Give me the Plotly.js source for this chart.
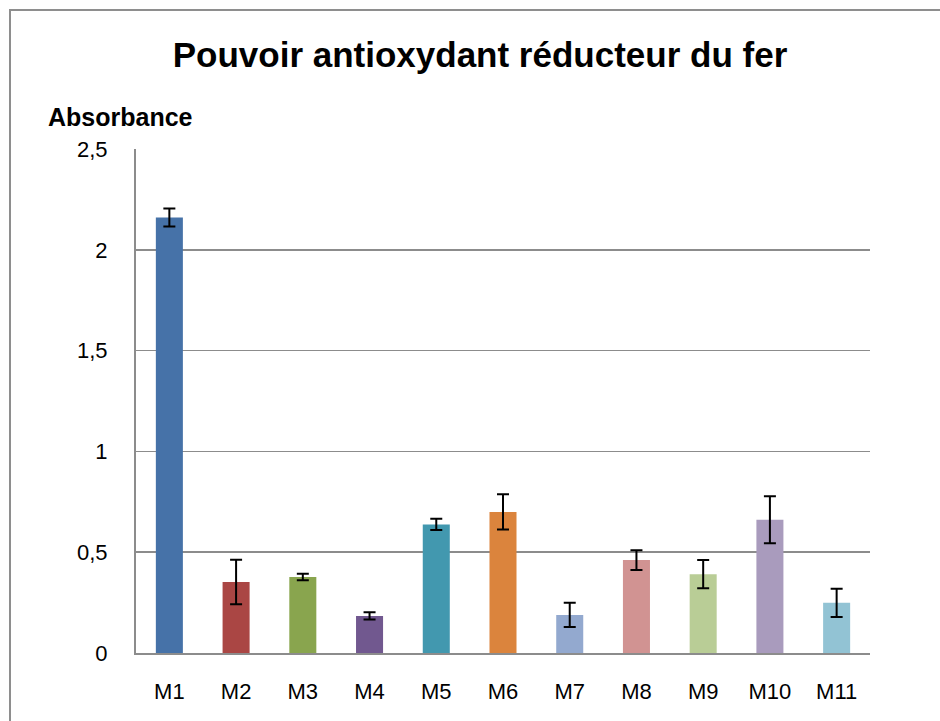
<!DOCTYPE html>
<html>
<head>
<meta charset="utf-8">
<script src="https://cdn.plot.ly/plotly-3.0.1.min.js"></script>
<style>
html,body{margin:0;padding:0;background:#fff;}
#wrap{position:relative;width:940px;height:721px;overflow:hidden;}
#chart{position:absolute;left:0;top:0;width:940px;height:721px;}
#frame{position:absolute;left:9px;top:9px;width:940px;height:720px;border-left:2px solid #8e8e8e;border-top:2px solid #8e8e8e;pointer-events:none;}
</style>
</head>
<body>
<div id="wrap"><div id="chart"></div><div id="frame"></div></div>
<script>
const categories = ["M1","M2","M3","M4","M5","M6","M7","M8","M9","M10","M11"];
const values = [2.16, 0.352, 0.377, 0.184, 0.638, 0.700, 0.189, 0.461, 0.391, 0.661, 0.249];
const errors = [0.045, 0.11, 0.016, 0.018, 0.028, 0.088, 0.06, 0.049, 0.07, 0.117, 0.07];
const colors = ["#4672A8","#AA4644","#89A54E","#71588F","#4298AF","#DB843D","#93A9CF","#D19392","#B9CD96","#A99BBD","#92C3D4"];
const titleText = "Pouvoir antioxydant réducteur du fer";
const yTitle = "Absorbance";

const font = "Liberation Sans, Arial, Helvetica, sans-serif";

const trace = {
  type: "bar",
  x: categories,
  y: values,
  marker: {color: colors, line: {width: 0}},
  error_y: {type: "data", array: errors, visible: true, color: "#000", thickness: 2, width: 6},
  hoverinfo: "x+y"
};

const layout = {
  width: 940, height: 721,
  margin: {l: 136, r: 70, t: 149, b: 68, pad: 0},
  paper_bgcolor: "#fff", plot_bgcolor: "#fff",
  separators: ", ",
  showlegend: false,
  bargap: 0.595,
  title: {text: "<b>" + titleText + "</b>", font: {family: font, size: 35, color: "#000"},
          x: 480/940, xref: "container", xanchor: "center", y: 1 - 55/721, yref: "container", yanchor: "middle"},
  xaxis: {
    type: "category", showgrid: false, zeroline: false,
    showline: true, linecolor: "#8c8c8c", linewidth: 2,
    ticks: "outside", ticklen: 18, tickcolor: "rgba(0,0,0,0)",
    tickfont: {family: font, size: 22, color: "#000"}
  },
  yaxis: {
    range: [0, 2.5], dtick: 0.5, tick0: 0, fixedrange: true,
    showgrid: true, gridcolor: "#8c8c8c", gridwidth: 1.5,
    zeroline: false, showline: true, linecolor: "#8c8c8c", linewidth: 2,
    ticks: "outside", ticklen: 22, tickcolor: "rgba(0,0,0,0)",
    tickfont: {family: font, size: 22, color: "#000"}
  },
  annotations: [{
    text: "<b>" + yTitle + "</b>", xref: "paper", yref: "paper",
    x: (46-136)/734, y: (653-117)/504, xanchor: "left", yanchor: "middle",
    showarrow: false, font: {family: font, size: 25, color: "#000"}
  }]
};

Plotly.newPlot("chart", [trace], layout, {displayModeBar: false, staticPlot: true});
</script>
</body>
</html>
